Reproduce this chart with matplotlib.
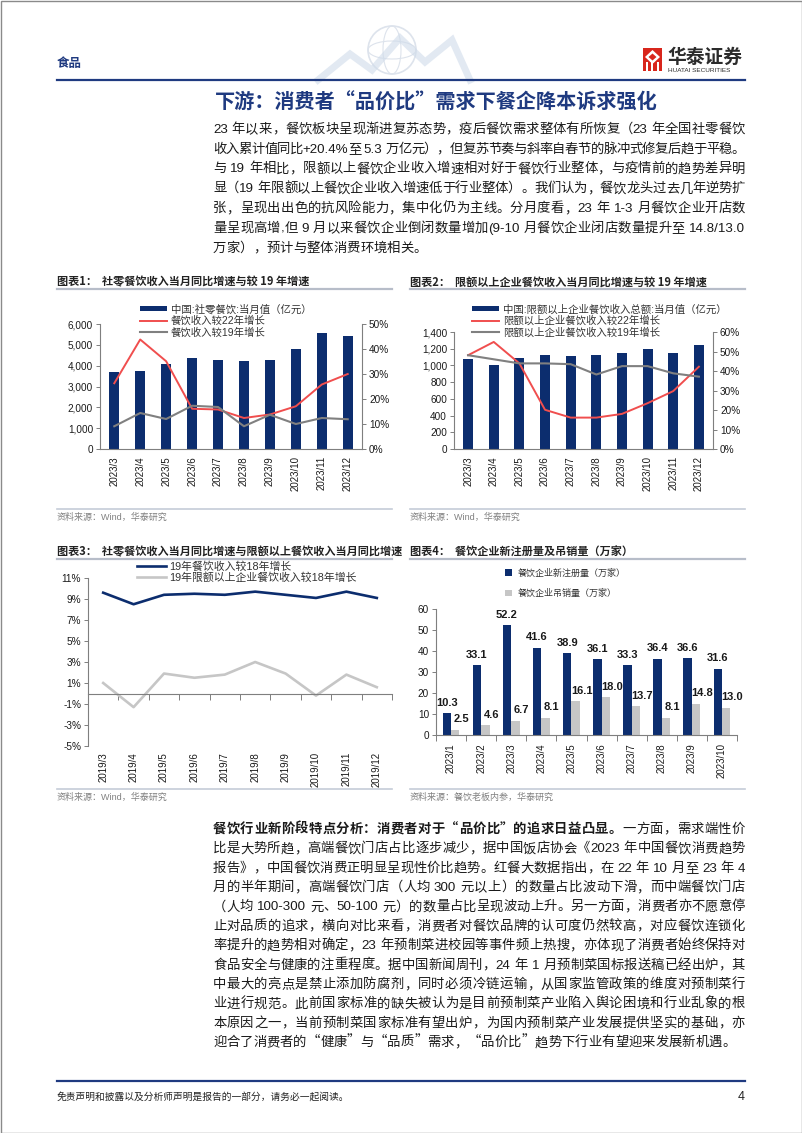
import numpy as np
import matplotlib
matplotlib.use('Agg')
import matplotlib.pyplot as plt
import matplotlib.transforms as mtransforms
from matplotlib.patches import Rectangle, Patch, Polygon, Circle, Ellipse
from matplotlib.lines import Line2D
from matplotlib.ticker import FuncFormatter
from matplotlib.font_manager import FontProperties

plt.rcParams['font.family'] = ['Liberation Sans', 'Noto Sans CJK SC', 'DejaVu Sans']

W, H = 802, 1133
NAVY = '#0c2d6e'
RED = '#f04e4e'
GREY = '#808080'
LGREY = '#c6c6c6'
AX = '#7f7f7f'
TXT = '#1a1a1a'
HEAD = '#1f3a80'
CJK = 'Noto Sans CJK SC'

# ---------------- data ----------------
m23 = ['2023/3', '2023/4', '2023/5', '2023/6', '2023/7', '2023/8', '2023/9', '2023/10', '2023/11', '2023/12']
c1_rev = [3700, 3740, 4080, 4380, 4270, 4210, 4290, 4810, 5580, 5420]
c1_vs22 = [26.3, 43.8, 35.1, 16.1, 15.8, 12.4, 13.8, 17.1, 25.8, 30.0]
c1_vs19 = [9.1, 14.4, 12.0, 17.3, 16.8, 9.1, 13.7, 10.0, 12.4, 11.9]

c2_rev = [1075, 1011, 1083, 1130, 1114, 1122, 1154, 1202, 1150, 1249]
c2_vs22 = [48.1, 54.9, 43.9, 20.1, 16.1, 16.1, 18.0, 23.5, 29.7, 42.2]
c2_vs19 = [48.1, 46.0, 43.9, 43.9, 43.5, 38.2, 42.5, 42.5, 38.8, 37.1]

m19 = ['2019/3', '2019/4', '2019/5', '2019/6', '2019/7', '2019/8', '2019/9', '2019/10', '2019/11', '2019/12']
c3_all = [9.6, 8.5, 9.4, 9.5, 9.4, 9.7, 9.4, 9.1, 9.7, 9.1]
c3_above = [1.0, -1.3, 1.9, 1.5, 1.8, 3.0, 1.9, -0.2, 1.8, 0.6]

m4 = ['2023/1', '2023/2', '2023/3', '2023/4', '2023/5', '2023/6', '2023/7', '2023/8', '2023/9', '2023/10']
c4_new = [10.3, 33.1, 52.2, 41.6, 38.9, 36.1, 33.3, 36.4, 36.6, 31.6]
c4_cancel = [2.5, 4.6, 6.7, 8.1, 16.1, 18.0, 13.7, 8.1, 14.8, 13.0]

title = '下游：消费者“品价比”需求下餐企降本诉求强化'
para1 = [
    '23 年以来，餐饮板块呈现渐进复苏态势，疫后餐饮需求整体有所恢复（23 年全国社零餐饮',
    '收入累计值同比+20.4%至 5.3 万亿元），但复苏节奏与斜率自春节的脉冲式修复后趋于平稳。',
    '与 19 年相比，限额以上餐饮企业收入增速相对好于餐饮行业整体，与疫情前的趋势差异明',
    '显（19 年限额以上餐饮企业收入增速低于行业整体）。我们认为，餐饮龙头过去几年逆势扩',
    '张，呈现出出色的抗风险能力，集中化仍为主线。分月度看，23 年 1-3 月餐饮企业开店数',
    '量呈现高增,但 9 月以来餐饮企业倒闭数量增加(9-10 月餐饮企业闭店数量提升至 14.8/13.0',
    '万家），预计与整体消费环境相关。',
]
para2_bold = '餐饮行业新阶段特点分析：消费者对于“品价比”的追求日益凸显。'
para2 = [
    '一方面，需求端性价',
    '比是大势所趋，高端餐饮门店占比逐步减少，据中国饭店协会《2023 年中国餐饮消费趋势',
    '报告》，中国餐饮消费正明显呈现性价比趋势。红餐大数据指出，在 22 年 10 月至 23 年 4',
    '月的半年期间，高端餐饮门店（人均 300 元以上）的数量占比波动下滑，而中端餐饮门店',
    '（人均 100-300 元、50-100 元）的数量占比呈现波动上升。另一方面，消费者亦不愿意停',
    '止对品质的追求，横向对比来看，消费者对餐饮品牌的认可度仍然较高，对应餐饮连锁化',
    '率提升的趋势相对确定，23 年预制菜进校园等事件频上热搜，亦体现了消费者始终保持对',
    '食品安全与健康的注重程度。据中国新闻周刊，24 年 1 月预制菜国标报送稿已经出炉，其',
    '中最大的亮点是禁止添加防腐剂，同时必须冷链运输，从国家监管政策的维度对预制菜行',
    '业进行规范。此前国家标准的缺失被认为是目前预制菜产业陷入舆论困境和行业乱象的根',
    '本原因之一，当前预制菜国家标准有望出炉，为国内预制菜产业发展提供坚实的基础，亦',
    '迎合了消费者的“健康”与“品质”需求，“品价比”趋势下行业有望迎来发展新机遇。',
]

fig = plt.figure(figsize=(W / 100, H / 100), dpi=100)
bg = fig.add_axes([0, 0, 1, 1])
bg.set_xlim(0, W)
bg.set_ylim(H, 0)
bg.axis('off')
renderer = fig.canvas.get_renderer()


def px_axes(x0, y0, x1, y1):
    return fig.add_axes([x0 / W, 1 - y1 / H, (x1 - x0) / W, (y1 - y0) / H])


def split_tokens(s):
    out, buf = [], ''
    for ch in s:
        if ch.isascii() and ch != ' ':
            buf += ch
        else:
            if buf:
                out.append(buf)
                buf = ''
            out.append(ch)
    if buf:
        out.append(buf)
    return out


def fam(t):
    return 'Liberation Sans' if t.isascii() else CJK


def draw_line(yc, segments, x0=213, x1=745, size=9.6, justify=True):
    toks = []
    for s, wt in segments:
        for t in split_tokens(s):
            toks.append((t, wt))
    widths = []
    for t, wt in toks:
        fp = FontProperties(family=fam(t), size=size, weight=wt)
        w, h, d = renderer.get_text_width_height_descent(t, fp, ismath=False)
        widths.append(w)
    gap = (x1 - x0 - sum(widths)) / (len(toks) - 1) if justify else 0
    x = x0
    base = yc + 0.36 * size * 100 / 72
    for (t, wt), w in zip(toks, widths):
        if t != ' ':
            bg.text(x, base, t, fontsize=size, fontweight=wt, family=fam(t),
                    va='baseline', ha='left', color=TXT)
        x += w + gap


# ---------------- page decoration ----------------
bg.add_patch(Rectangle((0.5, 0.5), W - 1, H - 1, fill=False, ec='#8a8a8a', lw=1, clip_on=False))
# faint watermark
bg.add_patch(Circle((392, 50), 24, fill=False, ec='#dde3ec', lw=1.2))
bg.add_patch(Ellipse((392, 50), 48, 18, fill=False, ec='#dde3ec', lw=0.8))
bg.add_patch(Ellipse((392, 50), 18, 48, fill=False, ec='#dde3ec', lw=0.8))
bg.plot([318, 350, 372, 400, 425, 452, 470], [80, 54, 70, 38, 62, 40, 80], color='#cfdbea', lw=5, alpha=0.6,
        solid_joinstyle='miter')

bg.text(57, 64, '食品', fontsize=9, fontweight='bold', family=CJK, color=HEAD, va='center')
bg.add_patch(Rectangle((643, 48), 19, 23, fc='#d8261c', ec='none'))
bg.add_patch(Polygon([[652.5, 50], [660, 57], [652.5, 64], [645, 57]], closed=True, fc='white', ec='none'))
bg.add_patch(Polygon([[652.5, 53.5], [656.5, 57], [652.5, 60.5], [648.5, 57]], closed=True, fc='#d8261c', ec='none'))
for xx in (647, 652, 658):
    bg.add_patch(Rectangle((xx - 1, 62), 2, 9, fc='white', ec='none'))
bg.text(667, 57, '华泰证券', fontsize=13.5, fontweight='bold', family=CJK, color='#2b2b2b', va='center')
bg.text(668, 70, 'HUATAI SECURITIES', fontsize=4.6, color='#2b2b2b', va='center')
bg.plot([57, 745], [79.5, 79.5], color=HEAD, lw=1.6)

bg.text(215, 102, title, fontsize=14.5, fontweight='bold', family=CJK, color=HEAD, va='center')

for i, line in enumerate(para1):
    draw_line(128 + 19.8 * i, [(line, 'normal')], justify=(i < len(para1) - 1))

for i, line in enumerate(para2):
    segs = [(para2_bold, 'bold'), (line, 'normal')] if i == 0 else [(line, 'normal')]
    draw_line(828 + 19.4 * i, segs, justify=(i < len(para2) - 1))

bg.plot([57, 745], [1081, 1081], color=HEAD, lw=1.6)
bg.text(57, 1097, '免责声明和披露以及分析师声明是报告的一部分，请务必一起阅读。', fontsize=7, family=CJK,
        color='#222222', va='center')
bg.text(745, 1097, '4', fontsize=9, color='#222222', va='center', ha='right')


def chart_title(x0, x1, y, txt):
    bg.text(x0, y, txt, fontsize=8, fontweight='bold', family=CJK, color='#222222', va='center')
    bg.plot([x0, x1], [y + 7, y + 7], color='#b7bdc9', lw=1.6)


def source(x0, x1, y, txt):
    bg.plot([x0, x1], [y - 8, y - 8], color='#c5ccd8', lw=1.2)
    bg.text(x0, y, txt, fontsize=6.5, color='#808080', va='center')


chart_title(57, 392, 282, '图表1：  社零餐饮收入当月同比增速与较 19 年增速')
chart_title(410, 745, 282, '图表2：  限额以上企业餐饮收入当月同比增速与较 19 年增速')
chart_title(57, 392, 552, '图表3：  社零餐饮收入当月同比增速与限额以上餐饮收入当月同比增速')
chart_title(410, 745, 552, '图表4：  餐饮企业新注册量及吊销量（万家）')
source(57, 392, 517, '资料来源：Wind，华泰研究')
source(410, 745, 517, '资料来源：Wind，华泰研究')
source(57, 392, 797, '资料来源：Wind，华泰研究')
source(410, 745, 797, '资料来源：餐饮老板内参，华泰研究')


def style_axes(ax):
    for s in ax.spines.values():
        s.set_color(AX)
        s.set_linewidth(0.8)
    ax.spines['top'].set_visible(False)
    ax.tick_params(axis='y', length=3, width=0.7, color=AX, labelsize=7.2, pad=2, labelcolor=TXT)
    ax.tick_params(axis='x', labelsize=7, labelcolor=TXT)


def bar_line_chart(box, labels, rev, vs22, vs19, ymax, ystep, rmax, rstep, leg_labels, leg_x):
    x = np.arange(len(labels))
    ax = px_axes(*box)
    ax.bar(x, rev, width=0.39, color=NAVY)
    ax.set_xlim(-0.55, len(labels) - 0.45)
    ax.set_ylim(0, ymax)
    ax.set_yticks(np.arange(0, ymax + 1, ystep))
    ax.yaxis.set_major_formatter(FuncFormatter(lambda v, p: f'{v:,.0f}'))
    ax.set_xticks(x)
    ax.set_xticklabels(labels, rotation=90)
    style_axes(ax)
    ax.spines['right'].set_visible(False)
    ax.tick_params(axis='x', length=0, pad=5)
    ax2 = ax.twinx()
    ax2.plot(x, vs22, color=RED, lw=1.4)
    ax2.plot(x, vs19, color=GREY, lw=1.5)
    ax2.set_ylim(0, rmax)
    ax2.set_yticks(np.arange(0, rmax + 1, rstep))
    ax2.yaxis.set_major_formatter(FuncFormatter(lambda v, p: f'{v:.0f}%'))
    style_axes(ax2)
    ax2.spines['left'].set_visible(False)
    ax2.spines['bottom'].set_visible(False)
    handles = [Patch(facecolor=NAVY), Line2D([], [], color=RED, lw=1.4), Line2D([], [], color=GREY, lw=1.5)]
    fig.legend(handles, leg_labels, loc='upper left', bbox_to_anchor=(leg_x / W, 1 - 304 / H),
               frameon=False, fontsize=7.5, borderpad=0, borderaxespad=0, labelspacing=0.12,
               handlelength=2.6, handleheight=0.45, handletextpad=0.35, labelcolor='#333333')


bar_line_chart((100, 324, 362, 449), m23, c1_rev, c1_vs22, c1_vs19, 6000, 1000, 50, 10,
               ['中国:社零餐饮:当月值（亿元）', '餐饮收入较22年增长', '餐饮收入较19年增长'], 140)
bar_line_chart((454, 332, 713, 449), m23, c2_rev, c2_vs22, c2_vs19, 1400, 200, 60, 10,
               ['中国:限额以上企业餐饮收入总额:当月值（亿元）', '限额以上企业餐饮收入较22年增长',
                '限额以上企业餐饮收入较19年增长'], 472)

# ---------------- chart 3 ----------------
ax3 = px_axes(88, 578, 392, 746)
x3 = np.arange(len(m19))
ax3.plot(x3, c3_all, color=NAVY, lw=1.9)
ax3.plot(x3, c3_above, color=LGREY, lw=1.9)
ax3.set_xlim(-0.5, len(m19) - 0.5)
ax3.set_ylim(-5, 11)
ax3.set_yticks(np.arange(-5, 12, 2))
ax3.yaxis.set_major_formatter(FuncFormatter(lambda v, p: f'{v:.0f}%'))
style_axes(ax3)
ax3.spines['right'].set_visible(False)
ax3.spines['bottom'].set_position(('data', 0))
ax3.set_xticks(np.arange(-0.5, len(m19), 1))
ax3.set_xticklabels([])
ax3.tick_params(axis='x', length=4, width=0.7, color=AX, direction='out')
tr3 = mtransforms.blended_transform_factory(ax3.transData, ax3.transAxes)
for i, lab in enumerate(m19):
    ax3.text(x3[i], -0.035, lab, transform=tr3, rotation=90, ha='center', va='top', fontsize=7, color=TXT)
fig.legend([Line2D([], [], color=NAVY, lw=1.9), Line2D([], [], color=LGREY, lw=1.9)],
           ['19年餐饮收入较18年增长', '19年限额以上企业餐饮收入较18年增长'],
           loc='upper left', bbox_to_anchor=(137 / W, 1 - 561 / H), frameon=False, fontsize=7.8,
           borderpad=0, borderaxespad=0, labelspacing=0.05, handlelength=2.7, handletextpad=0.3,
           labelcolor='#333333')

# ---------------- chart 4 ----------------
ax4 = px_axes(436, 609, 737, 735)
x4 = np.arange(len(m4))
b1 = ax4.bar(x4 - 0.14, c4_new, width=0.28, color=NAVY)
b2 = ax4.bar(x4 + 0.14, c4_cancel, width=0.28, color=LGREY)
ax4.bar_label(b1, labels=[f'{v:.1f}' for v in c4_new], padding=4, fontsize=8, fontweight='bold', color=TXT)
for i, v in enumerate(c4_cancel):
    ax4.annotate(f'{v:.1f}', xy=(x4[i] + 0.34, v), xytext=(0, 4), textcoords='offset points',
                 ha='center', va='bottom', fontsize=8, fontweight='bold', color=TXT)
ax4.set_xlim(-0.5, len(m4) - 0.5)
ax4.set_ylim(0, 60)
ax4.set_yticks(np.arange(0, 61, 10))
style_axes(ax4)
ax4.spines['right'].set_visible(False)
ax4.set_xticks(x4)
ax4.set_xticklabels(m4, rotation=90)
ax4.set_xticks(np.arange(-0.5, len(m4), 1), minor=True)
ax4.tick_params(axis='x', which='major', length=0, pad=6)
ax4.tick_params(axis='x', which='minor', length=4, width=0.7, color=AX)
fig.legend([Patch(facecolor=NAVY), Patch(facecolor=LGREY)],
           ['餐饮企业新注册量（万家）', '餐饮企业吊销量（万家）'],
           loc='upper left', bbox_to_anchor=(505 / W, 1 - 568.5 / H), frameon=False, fontsize=6.5,
           borderpad=0, borderaxespad=0, labelspacing=1.25, handlelength=0.75, handleheight=0.75,
           handletextpad=0.6, labelcolor='#333333')

fig.savefig('out.png', dpi=100)
